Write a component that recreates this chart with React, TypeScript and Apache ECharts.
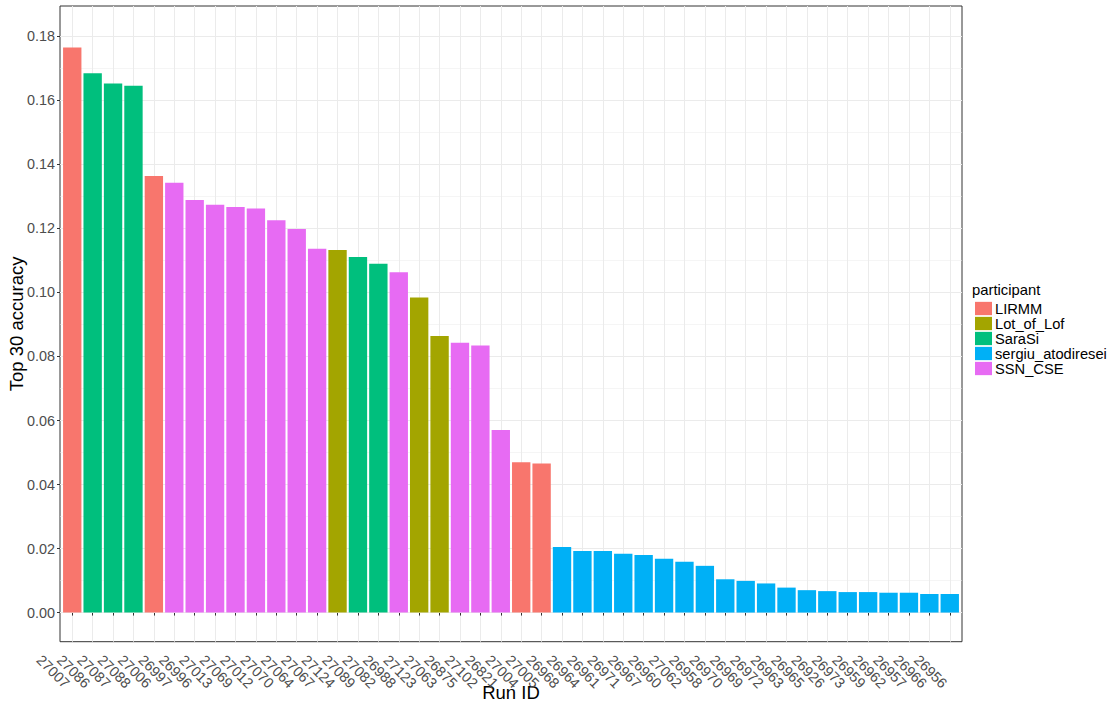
import React, { useEffect, useRef } from "react";
import * as echarts from "echarts";

const runIds = [
  "27007", "27086", "27087", "27088", "27006", "26997", "26996", "27013", "27069", "27012",
  "27070", "27064", "27067", "27124", "27089", "27082", "26988", "27123", "27063", "26875",
  "27102", "26821", "27004", "27005", "26968", "26964", "26961", "26971", "26967", "26960",
  "27062", "26958", "26970", "26969", "26972", "26963", "26965", "26926", "26973", "26959",
  "26962", "26957", "26966", "26956",
];

const runParticipant = [
  "LIRMM", "SaraSi", "SaraSi", "SaraSi", "LIRMM", "SSN_CSE", "SSN_CSE", "SSN_CSE", "SSN_CSE", "SSN_CSE",
  "SSN_CSE", "SSN_CSE", "SSN_CSE", "Lot_of_Lof", "SaraSi", "SaraSi", "SSN_CSE", "Lot_of_Lof", "Lot_of_Lof", "SSN_CSE",
  "SSN_CSE", "SSN_CSE", "LIRMM", "LIRMM", "sergiu_atodiresei", "sergiu_atodiresei", "sergiu_atodiresei", "sergiu_atodiresei", "sergiu_atodiresei", "sergiu_atodiresei",
  "sergiu_atodiresei", "sergiu_atodiresei", "sergiu_atodiresei", "sergiu_atodiresei", "sergiu_atodiresei", "sergiu_atodiresei", "sergiu_atodiresei", "sergiu_atodiresei", "sergiu_atodiresei", "sergiu_atodiresei",
  "sergiu_atodiresei", "sergiu_atodiresei", "sergiu_atodiresei", "sergiu_atodiresei",
];

const accuracy = [
  0.1765, 0.1685, 0.1653, 0.1646, 0.1364, 0.1343, 0.1289, 0.1274, 0.1267, 0.1262,
  0.1226, 0.1198, 0.1137, 0.1133, 0.1111, 0.109, 0.1063, 0.0984, 0.0864, 0.0843,
  0.0834, 0.057, 0.047, 0.0466, 0.0205, 0.0192, 0.0192, 0.0184, 0.018, 0.0168,
  0.0159, 0.0146, 0.0104, 0.0099, 0.0091, 0.0078, 0.007, 0.0067, 0.0064, 0.0064,
  0.0062, 0.0062, 0.0058, 0.0058,
];

const participantNames = ["LIRMM", "Lot_of_Lof", "SaraSi", "sergiu_atodiresei", "SSN_CSE"];
const participantColors = ["#F8766D", "#A3A500", "#00BF7D", "#00B0F6", "#E76BF3"];

const yMajorTicks = [0, 0.02, 0.04, 0.06, 0.08, 0.1, 0.12, 0.14, 0.16, 0.18];
const yMinorTicks = [0.01, 0.03, 0.05, 0.07, 0.09, 0.11, 0.13, 0.15, 0.17];

const FONT = "Liberation Sans, Arial, sans-serif";

export default function App() {
  const ref = useRef<HTMLDivElement>(null);

  useEffect(() => {
    document.body.style.margin = "0";
    if (!ref.current) return;
    const chart = echarts.init(ref.current, null, { renderer: "svg" });

    const xPositions = runIds.map((_, i) => i + 1);

    const series = participantNames.map((p, pi) => ({
      name: p,
      type: "bar",
      xAxisIndex: 0,
      yAxisIndex: 0,
      barGap: "-100%",
      barCategoryGap: "10%",
      itemStyle: { color: participantColors[pi] },
      data: runIds
        .map((_, i) => (runParticipant[i] === p ? [i + 1, accuracy[i]] : null))
        .filter((d) => d !== null),
    }));

    const option: any = {
      animation: false,
      backgroundColor: "#ffffff",
      title: {
        text: "participant",
        left: 972,
        top: 282,
        textStyle: { fontSize: 14.8, fontWeight: "normal", color: "#000", fontFamily: FONT },
        padding: 0,
      },
      legend: {
        orient: "vertical",
        left: 975,
        top: 301,
        padding: 0,
        itemGap: 0,
        itemWidth: 17,
        itemHeight: 13.3,
        icon: "rect",
        selectedMode: false,
        data: participantNames,
        textStyle: {
          fontSize: 14.7,
          color: "#000",
          lineHeight: 13.3,
          fontFamily: FONT,
          padding: [0, 0, 0, -2],
        },
      },
      grid: {
        left: 60,
        top: 6,
        width: 902,
        height: 635.7,
        show: true,
        borderColor: "#333333",
        borderWidth: 1,
        backgroundColor: "transparent",
        containLabel: false,
        outerBoundsMode: "none",
      },
      xAxis: [
        {
          type: "value",
          min: 0.4,
          max: 44.6,
          name: "Run ID",
          nameLocation: "middle",
          nameGap: 41,
          nameMoveOverlap: false,
          nameTextStyle: { fontSize: 18.5, color: "#000", fontFamily: FONT },
          axisLine: { show: false },
          axisTick: {
            show: true,
            customValues: xPositions,
            length: 3,
            lineStyle: { color: "#333333", width: 1 },
          },
          axisLabel: {
            show: true,
            customValues: xPositions,
            formatter: (v: number) => runIds[Math.round(v) - 1] ?? "",
            rotate: -45,
            align: "right",
            verticalAlign: "top",
            margin: 39,
            fontSize: 14.4,
            color: "#4D4D4D",
            fontFamily: FONT,
          },
          splitLine: { show: true, lineStyle: { color: "#EBEBEB", width: 1 } },
        },
      ],
      yAxis: [
        {
          type: "value",
          min: -0.0091,
          max: 0.1895,
          name: "Top 30 accuracy",
          nameLocation: "middle",
          nameGap: 34,
          nameMoveOverlap: false,
          nameTextStyle: { fontSize: 18.5, color: "#000", fontFamily: FONT },
          axisLine: { show: false },
          axisTick: {
            show: true,
            customValues: yMajorTicks,
            length: 3,
            lineStyle: { color: "#333333", width: 1 },
          },
          axisLabel: {
            show: true,
            customValues: yMajorTicks,
            formatter: (v: number) => v.toFixed(2),
            margin: 5,
            fontSize: 14.4,
            color: "#4D4D4D",
            fontFamily: FONT,
          },
          splitLine: { show: true, lineStyle: { color: "#EBEBEB", width: 1 } },
          z: 1,
        },
        {
          type: "value",
          min: -0.0091,
          max: 0.1895,
          position: "left",
          axisLine: { show: false },
          axisTick: { show: false, customValues: yMinorTicks },
          axisLabel: { show: false, customValues: yMinorTicks },
          splitLine: { show: true, lineStyle: { color: "#EBEBEB", width: 0.5 } },
          z: 0,
        },
      ],
      series,
    };

    chart.setOption(option);
    return () => chart.dispose();
  }, []);

  return <div ref={ref} style={{ width: 1116, height: 704 }} />;
}
